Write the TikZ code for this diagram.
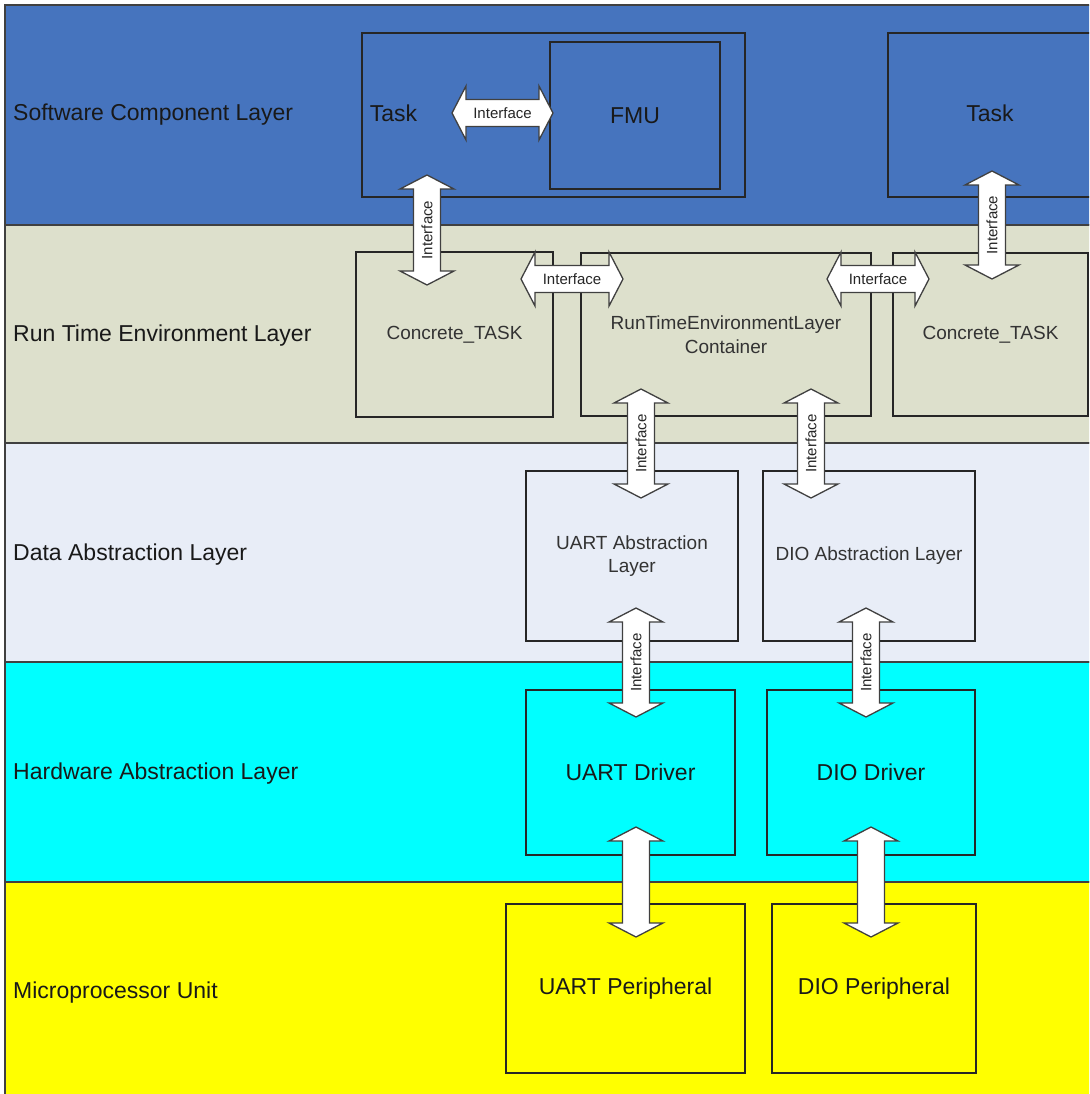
\documentclass[tikz,border=0pt]{standalone}
\usepackage{fontspec}
\setmainfont{Liberation Sans}
\definecolor{swcblue}{RGB}{70,116,190}
\definecolor{rtebeige}{RGB}{221,224,204}
\definecolor{dalight}{RGB}{232,237,247}
\definecolor{halcyan}{RGB}{0,255,255}
\definecolor{mcuyellow}{RGB}{255,255,0}

% vertical double arrow: name, x, top tip, bottom tip, label
\newcommand{\vface}[5]{%
  \draw[ifarrow] (#2,#3) -- ++(27,14) -- ++(-13.5,0) -- (#2+13.5,#4-14) -- ++(13.5,0)
    -- (#2,#4) -- ++(-27,-14) -- ++(13.5,0) -- (#2-13.5,#3+14) -- ++(-13.5,0) -- cycle;
  \node[iflabel,rotate=90] (#1) at ({#2},{(#3+#4)/2}) {#5};}
% horizontal double arrow: name, y, left tip, right tip, label
\newcommand{\hface}[5]{%
  \draw[ifarrow] (#3,#2) -- ++(14,-27) -- ++(0,13.5) -- (#4-14,#2-13.5) -- ++(0,-13.5)
    -- (#4,#2) -- ++(-14,27) -- ++(0,-13.5) -- (#3+14,#2+13.5) -- ++(0,13.5) -- cycle;
  \node[iflabel] (#1) at ({(#3+#4)/2},#2) {#5};}

\begin{document}
\begin{tikzpicture}[x=1pt,y=-1pt,
  layer/.style={draw=black!75,line width=1.4pt},
  box/.style={rectangle,draw=black!85,line width=1.3pt,inner sep=0pt},
  ifarrow/.style={fill=white,draw=black!75,line width=1.3pt,line join=miter},
  iflabel/.style={font=\fontsize{15}{18}\selectfont,text=black!85,inner sep=0pt},
  big/.style={font=\fontsize{23}{27}\selectfont,text=black!90},
  mid/.style={font=\fontsize{19}{23.5}\selectfont,text=black!80,align=center}]
\useasboundingbox (0,0) rectangle (1089,1094);
\clip (0,0) rectangle (1089,1094);
\fill[white] (0,0) rectangle (1089,1094);

% layer bands
\draw[layer,fill=swcblue]   (5,5)   rectangle (1120,225);
\draw[layer,fill=rtebeige]  (5,225) rectangle (1120,443);
\draw[layer,fill=dalight]   (5,443) rectangle (1120,662);
\draw[layer,fill=halcyan]   (5,662) rectangle (1120,882);
\draw[layer,fill=mcuyellow] (5,882) rectangle (1120,1120);

% layer names
\node[big,anchor=base west,inner sep=0pt] (lswc) at (13,121) {Software Component Layer};
\node[big,anchor=base west,inner sep=0pt] (lrte) at (13,341) {Run Time Environment Layer};
\node[big,anchor=base west,inner sep=0pt] (lda)  at (13,560) {Data Abstraction Layer};
\node[big,anchor=base west,inner sep=0pt] (lhal) at (13,779) {Hardware Abstraction Layer};
\node[big,anchor=base west,inner sep=0pt] (lmcu) at (13,998) {Microprocessor Unit};

% software components
\node[box,minimum width=383,minimum height=164] (swtask) at (553.5,115) {};
\node[big] (tasklbl) at (393.5,113) {Task};
\node[box,big,minimum width=170,minimum height=147] (fmu) at (635,115.5) {FMU};
\node[box,minimum width=204,minimum height=164] (task2) at (990,115) {};
\node[big] (task2lbl) at (990,113) {Task};

% run time environment
\node[box,mid,minimum width=197,minimum height=165] (ctask1) at (454.5,334.5) {Concrete\_TASK};
\node[box,mid,minimum width=290,minimum height=163] (rte) at (726,334.5) {RunTimeEnvironmentLayer\\Container};
\node[box,mid,minimum width=195,minimum height=163] (ctask2) at (990.5,334.5) {Concrete\_TASK};

% data abstraction
\node[box,mid,minimum width=212,minimum height=170] (uartabs) at (632,556) {UART Abstraction\\Layer};
\node[box,mid,minimum width=212,minimum height=170] (dioabs) at (869,556) {DIO Abstraction Layer};

% hardware abstraction
\node[box,big,minimum width=209,minimum height=165] (uartdrv) at (630.5,772.5) {UART Driver};
\node[box,big,minimum width=208,minimum height=165] (diodrv) at (871,772.5) {DIO Driver};

% microprocessor
\node[box,big,minimum width=239,minimum height=169] (uartper) at (625.5,988.5) {UART Peripheral};
\node[box,big,minimum width=204,minimum height=169] (dioper) at (874,988.5) {DIO Peripheral};

% interfaces
\hface{ifTaskFmu}{113}{452}{553}{Interface}
\vface{ifTaskCt}{427}{175}{285}{Interface}
\vface{ifTaskCt2}{992}{171}{279}{Interface}
\hface{ifCtRte}{279}{521}{623}{Interface}
\hface{ifRteCt}{279}{827}{929}{Interface}
\vface{ifRteUart}{641}{389}{498}{Interface}
\vface{ifRteDio}{811}{389}{498}{Interface}
\vface{ifUartDrv}{636}{608}{717}{Interface}
\vface{ifDioDrv}{866}{608}{717}{Interface}
\vface{ifUartPer}{636}{827}{937}{}
\vface{ifDioPer}{871}{827}{937}{}
\end{tikzpicture}
\end{document}
